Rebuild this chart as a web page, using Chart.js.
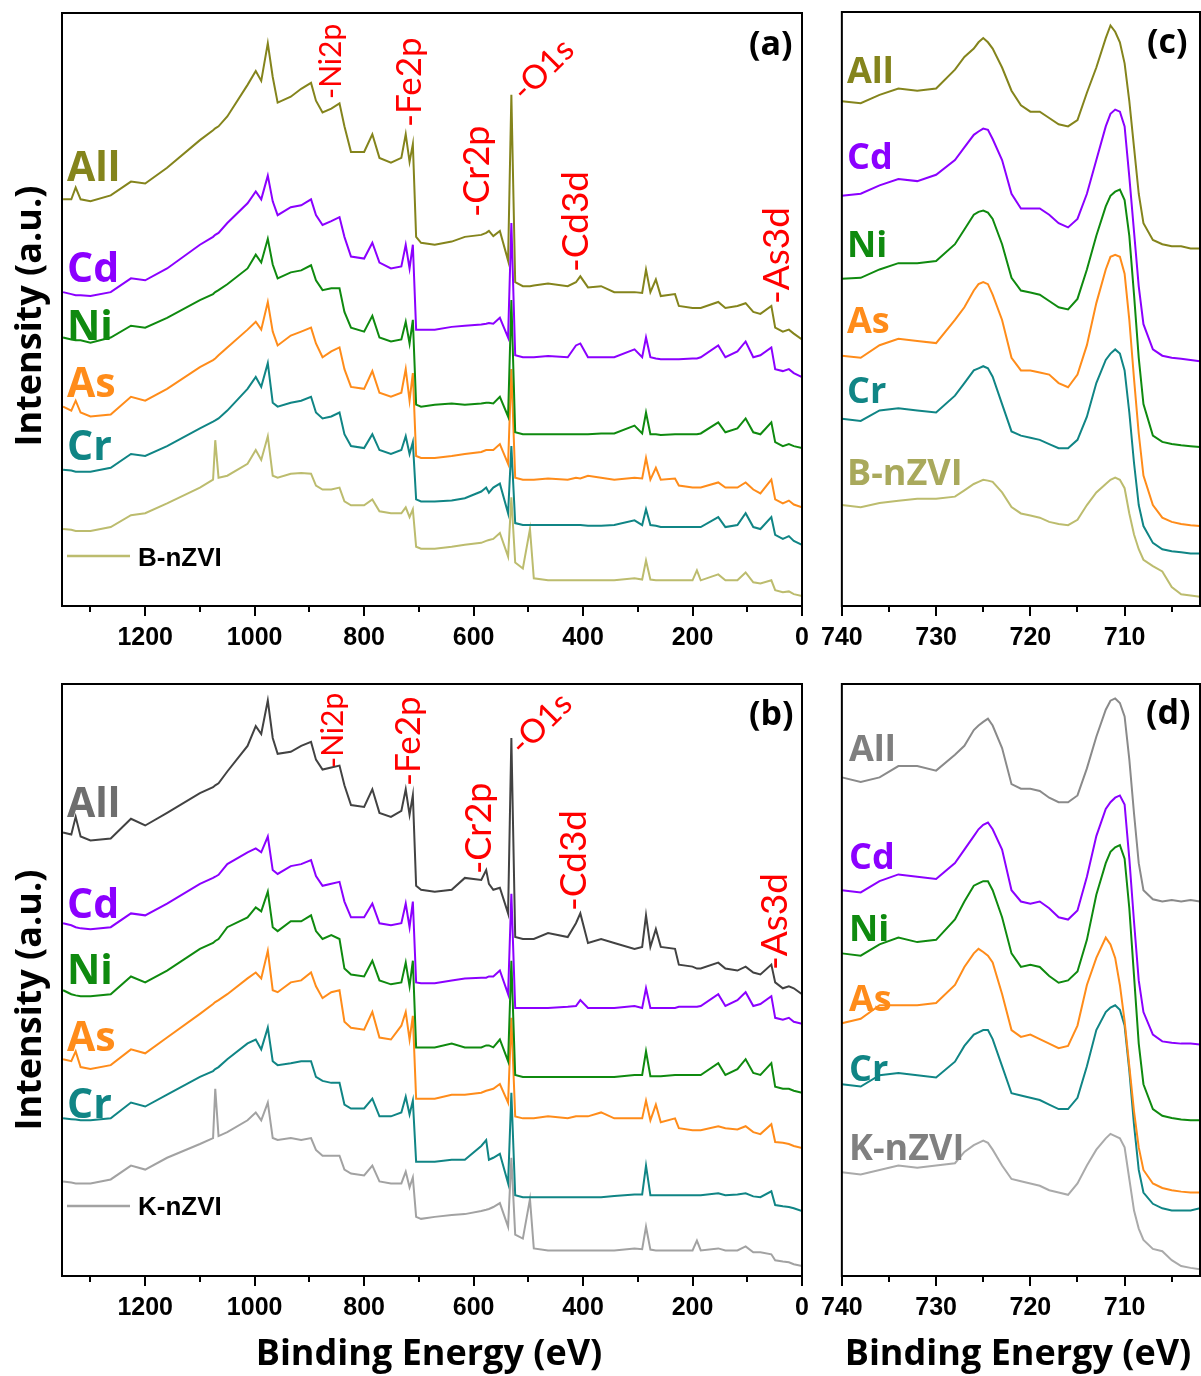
<!DOCTYPE html>
<html>
<head>
<meta charset="utf-8">
<title>XPS survey and Fe 2p spectra</title>
<script src="https://cdn.jsdelivr.net/npm/chart.js@4.4.1/dist/chart.umd.min.js"></script>
<style>
  html, body { margin: 0; padding: 0; background: #fff; }
  #page { position: relative; width: 1201px; height: 1376px; overflow: hidden; }
  #page canvas { position: absolute; }
</style>
</head>
<body>
<div id="page">
  <canvas id="panelA"></canvas>
  <canvas id="panelB"></canvas>
  <canvas id="panelC"></canvas>
  <canvas id="panelD"></canvas>
  <canvas id="labels" width="1201" height="1376" style="left:0;top:0"></canvas>
</div>
<script>
'use strict';

// binding energy grid (eV) for the survey scans
var surveyEnergy = [1350, 1335, 1327, 1318, 1300, 1263, 1226, 1200, 1160, 1100,
  1076, 1072, 1066, 1050, 1013, 998, 988, 976, 967, 958,
  934, 915, 897, 888, 876, 860, 845, 836, 824, 800,
  785, 772, 751, 732, 724, 717, 711, 705, 696, 671,
  640, 616, 586, 577, 572, 564, 552, 537, 531, 524,
  510, 497, 490, 464, 428, 413, 405, 391, 367, 343,
  306, 292, 285, 277, 267, 258, 232, 225, 200, 192,
  185, 153, 140, 118, 103, 89, 76, 56, 49, 35,
  24, 15, 0];

// binding energy grid (eV) for the Fe 2p window
var fe2pEnergy = [740, 738, 736, 734, 732, 730, 728, 727, 726, 725.5, 725, 724.5, 724,
  723, 722, 721, 720, 719, 718, 717, 716, 715, 714, 713, 712, 711.5,
  711, 710.5, 710, 709.5, 709, 708.5, 708, 707, 706, 705, 704, 703, 702];

var surveyTicks = [1200, 1000, 800, 600, 400, 200, 0];
var fe2pTicks = [740, 730, 720, 710];

var sampleNames = ['All', 'Cd', 'Ni', 'As', 'Cr'];
var peakNames = ['-Ni2p', '-Fe2p', '-Cr2p', '-O1s', '-Cd3d', '-As3d'];

// (a) survey, B-nZVI after sorption (stacked, arbitrary units)
var aAll = [1030, 1030, 1060, 1030, 1025, 1040, 1075, 1070, 1110, 1180,
  1205, 1210, 1215, 1240, 1320, 1355, 1330, 1425, 1340, 1275,
  1290, 1310, 1325, 1280, 1250, 1260, 1273, 1215, 1150, 1150,
  1195, 1135, 1123, 1135, 1195, 1125, 1170, 935, 920, 915,
  923, 935, 940, 945, 950, 937, 950, 875, 1295, 820,
  810, 810, 812, 817, 810, 820, 835, 807, 810, 795,
  795, 793, 852, 795, 827, 785, 790, 760, 755, 755,
  755, 770, 755, 760, 767, 745, 740, 760, 705, 695,
  700, 690, 675];
var aCd = [795, 790, 787, 787, 785, 795, 830, 825, 855, 915,
  935, 940, 945, 970, 1020, 1050, 1030, 1090, 1025, 990,
  1010, 1015, 1030, 990, 965, 975, 985, 935, 885, 880,
  920, 870, 855, 860, 915, 855, 915, 700, 700, 700,
  707, 710, 713, 715, 717, 715, 730, 680, 970, 635,
  630, 630, 630, 633, 630, 660, 665, 630, 630, 630,
  650, 630, 680, 630, 627, 625, 625, 625, 627, 627,
  630, 660, 630, 645, 670, 630, 635, 655, 600, 595,
  600, 590, 580];
var aNi = [680, 675, 673, 673, 667, 680, 710, 705, 730, 775,
  790, 795, 800, 815, 855, 890, 870, 930, 865, 830,
  845, 850, 863, 825, 800, 805, 805, 745, 705, 695,
  735, 680, 670, 675, 720, 665, 725, 510, 505, 510,
  513, 510, 513, 515, 515, 513, 530, 480, 775, 440,
  435, 435, 435, 435, 435, 435, 435, 435, 437, 437,
  457, 437, 490, 435, 435, 433, 435, 435, 435, 435,
  437, 465, 440, 450, 475, 440, 435, 465, 415, 405,
  410, 405, 400];
var aAs = [505, 495, 520, 490, 480, 485, 530, 520, 550, 605,
  623, 627, 635, 655, 700, 720, 700, 770, 695, 660,
  685, 695, 705, 665, 630, 645, 655, 600, 555, 550,
  595, 540, 530, 540, 600, 520, 590, 380, 375, 375,
  380, 385, 390, 395, 395, 395, 410, 360, 600, 325,
  320, 320, 320, 323, 320, 325, 323, 330, 325, 320,
  325, 323, 375, 320, 350, 320, 323, 305, 300, 300,
  300, 313, 300, 300, 313, 295, 285, 320, 270, 260,
  267, 257, 250];
var aCr = [345, 343, 340, 340, 340, 350, 385, 380, 405, 450,
  467, 470, 475, 495, 550, 580, 555, 615, 515, 505,
  515, 520, 530, 490, 475, 480, 490, 435, 405, 400,
  435, 395, 385, 395, 430, 385, 415, 270, 265, 265,
  267, 273, 290, 300, 287, 300, 310, 235, 405, 210,
  205, 205, 205, 205, 205, 205, 205, 203, 203, 205,
  217, 205, 245, 205, 203, 200, 200, 200, 200, 200,
  200, 225, 200, 205, 235, 200, 195, 225, 180, 170,
  177, 165, 155];
var aRef = [195, 193, 190, 190, 190, 200, 230, 235, 260, 300,
  320, 420, 325, 330, 360, 395, 370, 430, 330, 325,
  335, 337, 335, 305, 295, 295, 300, 265, 255, 255,
  270, 240, 235, 235, 250, 225, 245, 150, 145, 145,
  150, 155, 160, 165, 167, 170, 185, 125, 275, 110,
  95, 195, 70, 65, 65, 65, 65, 65, 65, 65,
  70, 67, 115, 67, 65, 65, 65, 65, 65, 90,
  65, 80, 65, 65, 85, 60, 57, 65, 40, 35,
  37, 30, 25];

// (b) survey, K-nZVI after sorption
var bAll = [1125, 1120, 1165, 1115, 1105, 1110, 1160, 1143, 1175, 1225,
  1240, 1245, 1250, 1280, 1345, 1395, 1375, 1460, 1365, 1325,
  1330, 1345, 1355, 1310, 1285, 1290, 1295, 1245, 1195, 1190,
  1235, 1175, 1165, 1180, 1235, 1170, 1220, 990, 980, 975,
  980, 1010, 1005, 1030, 995, 980, 985, 920, 1365, 860,
  855, 855, 855, 870, 860, 895, 920, 845, 855, 845,
  830, 835, 915, 835, 880, 835, 830, 790, 785, 780,
  780, 795, 780, 775, 785, 770, 765, 790, 745, 730,
  735, 730, 715];
var bCd = [895, 890, 885, 882, 880, 885, 920, 915, 945, 995,
  1010, 1013, 1018, 1045, 1075, 1085, 1075, 1115, 1030, 1020,
  1040, 1045, 1055, 1015, 990, 995, 1000, 950, 910, 910,
  945, 895, 890, 895, 945, 885, 950, 745, 743, 743,
  750, 755, 757, 757, 760, 760, 775, 715, 970, 680,
  680, 680, 680, 680, 683, 685, 700, 680, 680, 680,
  685, 680, 730, 680, 680, 680, 680, 683, 683, 683,
  685, 715, 685, 700, 720, 685, 690, 710, 655, 650,
  655, 645, 640];
var bNi = [725, 715, 712, 710, 710, 715, 760, 745, 775, 830,
  845, 850, 855, 885, 910, 935, 925, 975, 885, 875,
  900, 900, 915, 875, 855, 865, 855, 780, 765, 760,
  800, 750, 740, 745, 795, 735, 800, 580, 580, 580,
  590, 580, 580, 585, 585, 580, 600, 545, 800, 510,
  505, 505, 505, 505, 505, 505, 505, 505, 505, 505,
  510, 510, 570, 507, 507, 507, 510, 510, 510, 510,
  510, 540, 510, 525, 550, 515, 510, 540, 480, 475,
  475, 470, 465];
var bAs = [550, 545, 570, 530, 525, 535, 575, 565, 605, 665,
  690, 695, 700, 715, 755, 770, 755, 825, 725, 720,
  745, 750, 770, 735, 705, 720, 725, 645, 630, 625,
  670, 605, 600, 635, 670, 600, 660, 450, 450, 450,
  460, 460, 465, 470, 472, 475, 487, 440, 655, 405,
  400, 400, 400, 405, 400, 405, 405, 405, 415, 400,
  400, 400, 445, 395, 435, 390, 400, 375, 370, 370,
  370, 380, 375, 372, 380, 365, 360, 385, 340, 338,
  335, 330, 325];
var bCr = [400, 398, 397, 395, 395, 400, 440, 430, 460, 505,
  520, 525, 530, 550, 590, 600, 575, 630, 545, 535,
  540, 545, 545, 505, 495, 490, 490, 435, 425, 425,
  450, 405, 405, 415, 455, 410, 445, 290, 290, 290,
  295, 295, 330, 345, 295, 300, 310, 235, 465, 205,
  200, 200, 200, 200, 200, 200, 200, 200, 200, 203,
  207, 207, 280, 205, 205, 205, 205, 205, 205, 205,
  205, 210, 205, 207, 210, 202, 200, 215, 180, 177,
  175, 172, 165];
var bRef = [240, 237, 235, 235, 235, 245, 280, 270, 300, 335,
  350, 475, 355, 365, 395, 415, 395, 440, 350, 345,
  350, 345, 350, 320, 305, 305, 305, 270, 260, 255,
  280, 240, 235, 235, 265, 225, 250, 150, 145, 150,
  155, 157, 165, 168, 170, 175, 185, 125, 300, 105,
  95, 195, 70, 65, 65, 65, 65, 65, 65, 65,
  70, 68, 125, 67, 65, 65, 65, 65, 65, 90,
  65, 70, 65, 65, 75, 60, 60, 55, 40, 37,
  35, 30, 25];

// (c) Fe 2p, B-nZVI
var cAll = [1200, 1195, 1215, 1230, 1225, 1230, 1275, 1305, 1325, 1340, 1350, 1340, 1325,
  1280, 1225, 1190, 1175, 1175, 1160, 1145, 1140, 1155, 1220, 1280, 1350, 1380,
  1365, 1340, 1290, 1200, 1090, 980, 910, 870, 860, 855, 855, 850, 850];
var cCd = [975, 980, 1000, 1015, 1010, 1025, 1060, 1090, 1120, 1128, 1135, 1132, 1110,
  1060, 980, 945, 945, 945, 930, 910, 900, 920, 980, 1060, 1140, 1170,
  1180, 1175, 1140, 1020, 890, 760, 670, 610, 595, 590, 588, 585, 582];
var cNi = [778, 780, 800, 815, 815, 820, 860, 895, 930, 937, 940, 935, 920,
  860, 780, 750, 745, 740, 725, 710, 705, 730, 800, 880, 950, 975,
  985, 990, 965, 880, 740, 590, 480, 405, 390, 385, 382, 380, 378];
var cAs = [595, 590, 620, 635, 630, 625, 680, 710, 750, 765, 770, 765, 740,
  680, 590, 560, 560, 555, 550, 530, 520, 550, 620, 720, 800, 830,
  835, 830, 790, 680, 540, 410, 310, 240, 210, 200, 195, 192, 190];
var cCr = [445, 440, 465, 470, 465, 460, 500, 530, 560, 565, 570, 565, 545,
  480, 415, 405, 400, 395, 385, 375, 375, 395, 450, 530, 585, 600,
  610, 600, 560, 460, 340, 240, 190, 150, 135, 130, 128, 125, 125];
var cRef = [240, 235, 245, 250, 255, 255, 260, 275, 290, 295, 300, 298, 295,
  270, 235, 220, 215, 210, 200, 195, 192, 205, 240, 270, 290, 300,
  305, 300, 280, 220, 170, 135, 110, 95, 82, 45, 28, 25, 22];

// (d) Fe 2p, K-nZVI
var dAll = [1105, 1095, 1105, 1130, 1130, 1120, 1155, 1175, 1210, 1220, 1228, 1235, 1220,
  1170, 1090, 1080, 1080, 1075, 1060, 1050, 1050, 1065, 1125, 1195, 1255, 1275,
  1280, 1270, 1240, 1145, 1025, 915, 855, 835, 830, 833, 830, 833, 830];
var dCd = [855, 850, 875, 890, 885, 880, 915, 945, 975, 990, 1000, 1005, 990,
  945, 855, 830, 825, 830, 815, 795, 790, 810, 885, 975, 1035, 1050,
  1060, 1065, 1045, 925, 785, 655, 585, 535, 520, 517, 515, 515, 513];
var dNi = [715, 710, 735, 750, 740, 745, 790, 830, 865, 870, 875, 875, 855,
  795, 715, 685, 690, 685, 665, 650, 655, 675, 745, 845, 915, 940,
  950, 955, 925, 815, 665, 515, 425, 370, 355, 350, 347, 345, 345];
var dAs = [560, 570, 600, 600, 600, 605, 645, 685, 715, 725, 718, 710, 695,
  625, 545, 530, 535, 525, 515, 505, 510, 555, 645, 705, 750, 735,
  705, 645, 565, 465, 365, 285, 235, 205, 195, 190, 187, 185, 185];
var dCr = [425, 420, 445, 450, 445, 440, 475, 510, 535, 540, 545, 545, 525,
  465, 405, 400, 395, 390, 380, 370, 370, 395, 465, 545, 585, 595,
  600, 590, 555, 455, 335, 235, 185, 160, 150, 145, 145, 145, 150];
var dRef = [230, 225, 235, 245, 240, 245, 250, 275, 290, 295, 300, 295, 280,
  245, 215, 210, 205, 200, 190, 185, 180, 205, 245, 280, 305, 315,
  310, 305, 285, 215, 145, 105, 80, 60, 55, 35, 22, 18, 15];

var OLIVE = '#84841c', PURPLE = '#8b00ff', GREEN = '#0f8a0f', ORANGE = '#ff8c1a', TEAL = '#108585';
var colorsB = [OLIVE, PURPLE, GREEN, ORANGE, TEAL, '#bcbc6e'];
var colorsK = ['#424242', PURPLE, GREEN, ORANGE, TEAL, '#a2a2a2'];
var colorsKfe = ['#8a8a8a', PURPLE, GREEN, ORANGE, TEAL, '#aaaaaa'];

var arialBold = "'Liberation Sans', Arial, sans-serif";
var tickFont = { family: arialBold, size: 25, weight: 'bold' };

// box frame and outward tick marks under each panel
var framePlugin = {
  id: 'frame',
  afterDraw: function (chart, args, opts) {
    var ctx = chart.ctx, a = chart.chartArea, x = chart.scales.x;
    ctx.save();
    ctx.strokeStyle = '#000';
    ctx.lineWidth = 2;
    ctx.strokeRect(a.left, a.top, a.right - a.left, a.bottom - a.top);
    x.ticks.forEach(function (t) {
      var px = Math.round(x.getPixelForValue(t.value));
      var len = opts.major.indexOf(t.value) >= 0 ? 10 : 6;
      ctx.beginPath();
      ctx.moveTo(px, a.bottom);
      ctx.lineTo(px, a.bottom + len);
      ctx.stroke();
    });
    ctx.restore();
  }
};

function makePanel(id, box, pad, xMin, xMax, step, yMax, energies, series, colors, major) {
  var cv = document.getElementById(id);
  var w = box[2] - box[0] + pad[0] + pad[2];
  var h = box[3] - box[1] + pad[1] + pad[3];
  cv.width = w;
  cv.height = h;
  cv.style.left = (box[0] - pad[0]) + 'px';
  cv.style.top = (box[1] - pad[1]) + 'px';
  cv.style.width = w + 'px';
  cv.style.height = h + 'px';

  var datasets = series.map(function (vals, i) {
    return {
      data: energies.map(function (e, k) { return { x: e, y: vals[k] }; }),
      borderColor: colors[i],
      borderWidth: 2,
      pointRadius: 0,
      tension: 0,
      fill: false
    };
  });

  return new Chart(cv, {
    type: 'line',
    data: { datasets: datasets },
    options: {
      responsive: false,
      animation: false,
      devicePixelRatio: 1,
      layout: { padding: { left: pad[0], top: pad[1], right: pad[2], bottom: 0 } },
      plugins: { legend: { display: false }, tooltip: { enabled: false }, frame: { major: major } },
      scales: {
        x: {
          type: 'linear',
          reverse: true,
          min: xMin,
          max: xMax,
          grid: { display: false, drawTicks: true, tickLength: 10 },
          border: { display: false },
          ticks: {
            stepSize: step,
            autoSkip: false,
            maxRotation: 0,
            includeBounds: false,
            padding: 7,
            color: '#000',
            font: tickFont,
            callback: function (v) { return major.indexOf(v) >= 0 ? String(v) : ''; }
          },
          afterFit: function (s) { s.height = pad[3]; }
        },
        y: { display: false, min: 0, max: yMax }
      }
    },
    plugins: [framePlugin]
  });
}

makePanel('panelA', [62, 13, 802, 606], [40, 10, 14, 60], 0, 1352, 100, 1502,
  surveyEnergy, [aAll, aCd, aNi, aAs, aCr, aRef], colorsB, surveyTicks);
makePanel('panelB', [62, 684, 802, 1276], [40, 10, 14, 60], 0, 1352, 100, 1502,
  surveyEnergy, [bAll, bCd, bNi, bAs, bCr, bRef], colorsK, surveyTicks);
makePanel('panelC', [840, 12, 1200, 606], [26, 10, 1, 60], 702, 740, 5, 1412,
  fe2pEnergy, [cAll, cCd, cNi, cAs, cCr, cRef], colorsB, fe2pTicks);
makePanel('panelD', [840, 684, 1200, 1276], [26, 10, 1, 60], 702, 740, 5, 1312,
  fe2pEnergy, [dAll, dCd, dNi, dAs, dCr, dRef], colorsKfe, fe2pTicks);

// text layer: sample names, peak tags, panel letters and axis titles
var ctx = document.getElementById('labels').getContext('2d');

function put(text, x, y, font, color, angle, align) {
  ctx.save();
  ctx.translate(x, y);
  if (angle) ctx.rotate(angle * Math.PI / 180);
  ctx.font = font;
  ctx.fillStyle = color;
  ctx.textAlign = align || 'left';
  ctx.textBaseline = 'alphabetic';
  ctx.fillText(text, 0, 0);
  ctx.restore();
}

var boldSans = "'Open Sans', 'DejaVu Sans', sans-serif";
var tagFont = "Lato, 'Open Sans', sans-serif";

// sample names beside the stacked curves
var nameRows = [
  { x: 67, size: 41, base: [181, 282, 340, 397, 460], colors: [OLIVE, PURPLE, GREEN, ORANGE, TEAL] },
  { x: 67, size: 41, base: [817, 918, 984, 1051, 1118], colors: ['#6e6e6e', PURPLE, GREEN, ORANGE, TEAL] },
  { x: 847, size: 36, base: [83, 169, 257, 333, 403], colors: [OLIVE, PURPLE, GREEN, ORANGE, TEAL] },
  { x: 849, size: 36, base: [761, 869, 941, 1011, 1081], colors: ['#7f7f7f', PURPLE, GREEN, ORANGE, TEAL] }
];
nameRows.forEach(function (r) {
  sampleNames.forEach(function (n, i) {
    put(n, r.x, r.base[i], 'bold ' + r.size + 'px ' + boldSans, r.colors[i]);
  });
});
put('B-nZVI', 847, 485, 'bold 36px ' + boldSans, '#a9a95c');
put('K-nZVI', 849, 1160, 'bold 36px ' + boldSans, '#808080');

// legend swatches in the survey panels
ctx.lineWidth = 2.5;
ctx.strokeStyle = colorsB[5];
ctx.beginPath(); ctx.moveTo(67, 556); ctx.lineTo(130, 556); ctx.stroke();
ctx.strokeStyle = colorsK[5];
ctx.beginPath(); ctx.moveTo(67, 1206); ctx.lineTo(130, 1206); ctx.stroke();
put('B-nZVI', 138, 566, 'bold 26px ' + arialBold, '#000');
put('K-nZVI', 138, 1215, 'bold 26px ' + arialBold, '#000');

// peak tags: [x, y, size, angle]
var tagSpotsA = [[341, 99, 30, -90], [421, 127, 35, -90], [489, 217, 36, -90],
  [525, 103, 33, -45], [588, 272, 37, -90], [789, 304, 37, -90]];
var tagSpotsB = [[343, 768, 30, -90], [420, 786, 35, -90], [491, 874, 36, -90],
  [523, 757, 33, -45], [586, 911, 37, -90], [787, 970, 37, -90]];
[tagSpotsA, tagSpotsB].forEach(function (spots) {
  peakNames.forEach(function (n, i) {
    var s = spots[i];
    put(n, s[0], s[1], s[2] + 'px ' + tagFont, '#ff0000', s[3]);
  });
});

put('(a)', 749, 55, 'bold 34px ' + boldSans, '#000');
put('(b)', 749, 725, 'bold 34px ' + boldSans, '#000');
put('(c)', 1147, 53, 'bold 34px ' + boldSans, '#000');
put('(d)', 1146, 724, 'bold 34px ' + boldSans, '#000');

put('Intensity (a.u.)', 41, 316, 'bold 36px ' + boldSans, '#000', -90, 'center');
put('Intensity (a.u.)', 41, 1000, 'bold 36px ' + boldSans, '#000', -90, 'center');
put('Binding Energy (eV)', 429, 1365, 'bold 36px ' + boldSans, '#000', 0, 'center');
put('Binding Energy (eV)', 1018, 1365, 'bold 36px ' + boldSans, '#000', 0, 'center');
</script>
</body>
</html>
